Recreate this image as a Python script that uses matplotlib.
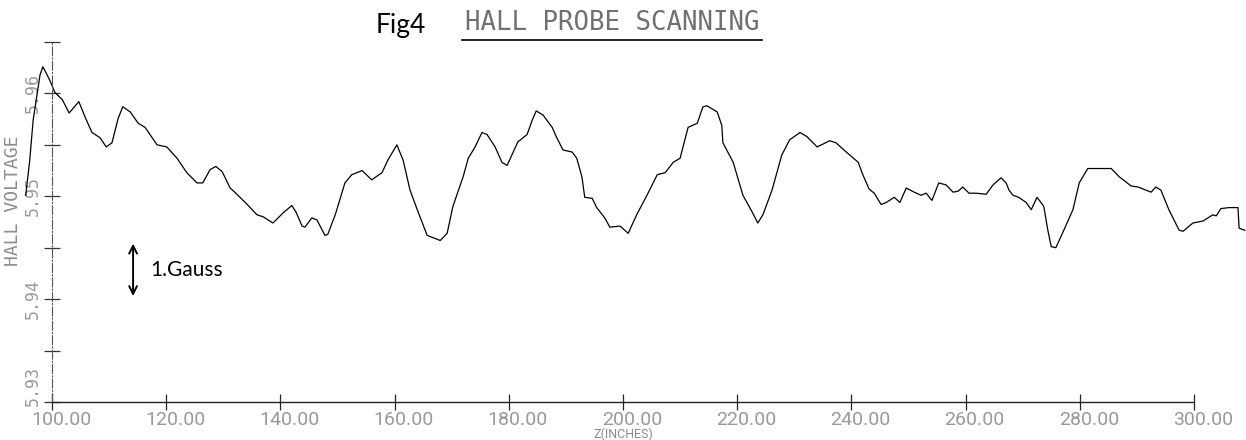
"""Hall probe scan of the magnet (Fig 4), redrawn from the plotter output."""

import matplotlib

matplotlib.use("Agg")
import matplotlib.pyplot as plt
from matplotlib.lines import Line2D
from matplotlib.transforms import ScaledTranslation

FIG_W_PX = 1246
FIG_H_PX = 440
DPI = 100

LINE_COLOR = "black"
PLOTTER_GRAY = "#8c8c8c"
NARROW_FONT = ["Roboto", "DejaVu Sans"]
MONO_FONT = ["DejaVu Sans Mono"]
HAND_FONT = ["Lato", "DejaVu Sans"]

# scan position (inches) and hall voltage (V)
Z_INCHES = [
    95.4, 96.1, 96.7, 97.4, 97.9, 98.4, 99.6, 100.5, 101.8, 103.0,
    104.7, 105.8, 107.0, 108.4, 109.5, 110.5, 111.6, 112.4, 113.7, 115.1,
    116.3, 118.4, 120.1, 121.9, 123.6, 125.4, 126.4, 127.7, 128.7, 129.8,
    131.2, 132.0, 134.2, 135.9, 137.0, 138.7, 140.5, 142.0, 142.7, 143.8,
    144.3, 145.5, 146.4, 147.8, 148.3, 149.6, 151.3, 152.5, 154.3, 156.0,
    157.8, 158.8, 160.4, 161.5, 162.7, 164.1, 165.7, 168.0, 169.2, 170.2,
    172.0, 172.9, 174.1, 175.3, 176.2, 177.6, 178.8, 179.7, 180.7, 181.6,
    183.2, 184.1, 184.8, 186.0, 187.6, 188.4, 189.5, 191.1, 191.9, 192.8,
    193.3, 194.6, 195.4, 196.8, 197.7, 199.5, 200.9, 202.4, 204.2, 206.0,
    207.4, 208.8, 210.0, 211.4, 213.0, 214.0, 214.7, 216.5, 217.3, 217.5,
    219.3, 221.0, 222.6, 223.6, 224.5, 226.1, 227.8, 229.2, 231.0, 232.2,
    234.0, 236.2, 237.3, 239.1, 241.2, 242.0, 243.1, 244.0, 245.2, 246.1,
    247.5, 248.5, 249.6, 251.0, 252.2, 253.1, 254.1, 255.3, 256.6, 257.8,
    258.7, 259.5, 260.6, 261.8, 263.6, 264.8, 266.2, 267.1, 267.6, 268.3,
    269.3, 270.6, 271.5, 272.5, 273.2, 273.7, 274.4, 275.0, 275.8, 277.2,
    278.8, 279.9, 281.4, 283.4, 285.5, 286.9, 289.0, 290.2, 292.5, 293.3,
    294.2, 295.6, 297.4, 298.1, 299.8, 301.6, 303.3, 303.9, 304.7, 306.1,
    307.7, 307.9, 308.9,
]
HALL_VOLTAGE = [
    5.9501, 5.9535, 5.9574, 5.9600, 5.9618, 5.9626, 5.9613, 5.9601, 5.9594, 5.9581,
    5.9592, 5.9577, 5.9562, 5.9557, 5.9548, 5.9552, 5.9576, 5.9587, 5.9582, 5.9571,
    5.9567, 5.9550, 5.9548, 5.9537, 5.9523, 5.9513, 5.9513, 5.9526, 5.9529, 5.9524,
    5.9508, 5.9504, 5.9492, 5.9482, 5.9480, 5.9474, 5.9484, 5.9491, 5.9485, 5.9471,
    5.9470, 5.9479, 5.9477, 5.9462, 5.9463, 5.9482, 5.9513, 5.9521, 5.9525, 5.9516,
    5.9523, 5.9535, 5.9550, 5.9535, 5.9506, 5.9485, 5.9462, 5.9457, 5.9464, 5.9490,
    5.9519, 5.9537, 5.9548, 5.9562, 5.9560, 5.9548, 5.9533, 5.9530, 5.9542, 5.9553,
    5.9560, 5.9574, 5.9583, 5.9579, 5.9567, 5.9557, 5.9545, 5.9543, 5.9537, 5.9519,
    5.9499, 5.9498, 5.9489, 5.9479, 5.9470, 5.9471, 5.9464, 5.9482, 5.9501, 5.9521,
    5.9523, 5.9533, 5.9537, 5.9567, 5.9571, 5.9587, 5.9588, 5.9582, 5.9569, 5.9552,
    5.9533, 5.9501, 5.9485, 5.9474, 5.9482, 5.9506, 5.9540, 5.9555, 5.9562, 5.9558,
    5.9548, 5.9554, 5.9552, 5.9543, 5.9533, 5.9521, 5.9507, 5.9503, 5.9492, 5.9494,
    5.9499, 5.9494, 5.9508, 5.9504, 5.9501, 5.9503, 5.9496, 5.9513, 5.9511, 5.9504,
    5.9505, 5.9509, 5.9503, 5.9503, 5.9502, 5.9511, 5.9518, 5.9513, 5.9506, 5.9501,
    5.9499, 5.9494, 5.9487, 5.9499, 5.9494, 5.9490, 5.9467, 5.9451, 5.9450, 5.9467,
    5.9487, 5.9513, 5.9527, 5.9527, 5.9527, 5.9519, 5.9510, 5.9509, 5.9504, 5.9509,
    5.9506, 5.9487, 5.9467, 5.9466, 5.9474, 5.9476, 5.9482, 5.9481, 5.9488, 5.9489,
    5.9489, 5.9469, 5.9467,
]

X_TICKS = [100, 120, 140, 160, 180, 200, 220, 240, 260, 280, 300]
Y_LABELLED_TICKS = [5.93, 5.94, 5.95, 5.96]
Y_MINOR_TICKS = [5.935, 5.945, 5.955, 5.965]
X_LIMITS = (100, 300)
Y_LIMITS = (5.93, 5.965)

# hand-drawn scale bar: one gauss
GAUSS_Z = 114.2
GAUSS_LOW = 5.9403
GAUSS_HIGH = 5.9454
GAUSS_LABEL = "1.Gauss"

TITLE = "HALL PROBE SCANNING"
FIG_LABEL = "Fig4"
X_LABEL = "Z(INCHES)"
Y_LABEL = "HALL VOLTAGE"


fig = plt.figure(figsize=(FIG_W_PX / DPI, FIG_H_PX / DPI), dpi=DPI)
ax = fig.add_axes([52 / FIG_W_PX, 38 / FIG_H_PX, 1142 / FIG_W_PX, 360 / FIG_H_PX])

ax.plot(Z_INCHES, HALL_VOLTAGE, color=LINE_COLOR, linewidth=0.9, clip_on=False)

ax.set_xlim(*X_LIMITS)
ax.set_ylim(*Y_LIMITS)

for side in ["top", "right"]:
    ax.spines[side].set_visible(False)
ax.spines["bottom"].set_color("#222222")
ax.spines["bottom"].set_linewidth(1.0)
ax.spines["left"].set_color("#555555")
ax.spines["left"].set_linewidth(0.8)
ax.spines["left"].set_linestyle((0, (8, 2, 1, 2)))

ax.set_xticks(X_TICKS)
ax.set_xticklabels(
    [f"{v:.2f}" for v in X_TICKS],
    color="#999999",
    fontsize=14,
    family=NARROW_FONT,
)
ax.tick_params(axis="x", direction="inout", length=11, width=0.9, pad=1,
               color="#222222")
shift = ScaledTranslation(9 / DPI, 0, fig.dpi_scale_trans)
for label in ax.get_xticklabels():
    label.set_transform(label.get_transform() + shift)

ax.set_yticks(Y_LABELLED_TICKS)
ax.set_yticks(Y_MINOR_TICKS, minor=True)
ax.set_yticklabels(
    [f"{v:.2f}" for v in Y_LABELLED_TICKS],
    color="#999999",
    fontsize=12,
    family=MONO_FONT,
    rotation=90,
    va="center",
)
ax.tick_params(axis="y", which="both", direction="inout", length=11,
               width=0.9, pad=2, color="#333333")
# the lowest label sits a little above its tick on the plot
lowest = ax.get_yticklabels()[0]
lowest.set_transform(lowest.get_transform()
                     + ScaledTranslation(0, 16 / DPI, fig.dpi_scale_trans))

ax.text(-0.034, 0.56, Y_LABEL, transform=ax.transAxes, rotation=90,
        ha="center", va="center", color=PLOTTER_GRAY, fontsize=13,
        family=MONO_FONT)
ax.text(0.5, -0.091, X_LABEL, transform=ax.transAxes, ha="center", va="center",
        color=PLOTTER_GRAY, fontsize=9, family=NARROW_FONT)

# one-gauss scale bar with handwritten label
ax.annotate("", xy=(GAUSS_Z, GAUSS_HIGH), xytext=(GAUSS_Z, GAUSS_LOW),
            arrowprops=dict(arrowstyle="<->", color="black", lw=1.4,
                            mutation_scale=14, shrinkA=0, shrinkB=0))
ax.text(GAUSS_Z + 3.0, (GAUSS_LOW + GAUSS_HIGH) / 2, GAUSS_LABEL,
        ha="left", va="center", fontsize=15, family=HAND_FONT, color="black")

# title block
fig.text(401 / FIG_W_PX, 1 - 26 / FIG_H_PX, FIG_LABEL, ha="center",
         va="center", fontsize=19, family=HAND_FONT, color="black")
fig.text(612 / FIG_W_PX, 1 - 23 / FIG_H_PX, TITLE, ha="center", va="center",
         fontsize=18.5, family=MONO_FONT, color="#707070")
fig.add_artist(Line2D([462 / FIG_W_PX, 762 / FIG_W_PX],
                      [1 - 40 / FIG_H_PX, 1 - 40 / FIG_H_PX],
                      color="black", linewidth=1.2))

fig.savefig("out.png", dpi=DPI)
